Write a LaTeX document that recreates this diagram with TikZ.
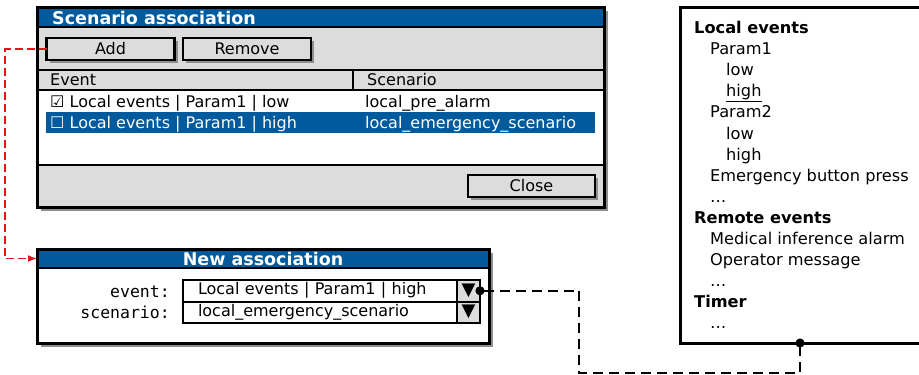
\documentclass[tikz,border=0pt]{standalone}
\usepackage{fontspec}
\setmainfont{DejaVu Sans}
\newfontfamily\monofont{DejaVu Sans Mono}
\usetikzlibrary{positioning, arrows.meta}

\definecolor{barblue}{HTML}{005A9C}
\definecolor{panelgray}{HTML}{DCDCDC}
\definecolor{shadowgray}{HTML}{8E8E8E}
\definecolor{linkred}{HTML}{E8141C}

\tikzset{
  shadowed/.style={preaction={fill=shadowgray, transform canvas={shift={(4pt,-4pt)}}}},
  win/.style={fill=white, shadowed},
  frame/.style={draw, line width=3pt},
  rule/.style={line width=2pt},
  btn/.style={draw, line width=2.5pt, fill=panelgray, outer sep=0pt,
    preaction={fill=shadowgray, transform canvas={shift={(3pt,-3pt)}}},
    minimum height=22pt, inner sep=0pt},
  cell/.style={anchor=base west, inner sep=0pt},
  selcell/.style={cell, text=white},
  titletext/.style={text=white, font=\fontsize{17.5pt}{19pt}\selectfont\bfseries, inner sep=0pt},
  bar/.style={fill=barblue, outer sep=0pt, inner sep=0pt},
  monolabel/.style={anchor=base east, inner sep=0pt, font=\monofont\fontsize{16.5pt}{19pt}\selectfont},
  combo/.style={draw, line width=2pt, fill=white, outer sep=0pt, minimum height=21.5pt,
    text width=244pt, inner xsep=15pt, inner ysep=0pt, align=left},
  dropbtn/.style={draw, line width=2pt, fill=panelgray, outer sep=0pt, minimum height=21.5pt,
    minimum width=23pt, inner sep=0pt, font=\fontsize{18pt}{18pt}\selectfont},
  redlink/.style={draw=linkred, line width=1.5pt, dash pattern=on 8pt off 4pt},
  blacklink/.style={line width=2pt, dash pattern=on 10pt off 6pt},
  listitem/.style={anchor=base west, inner sep=0pt, font=\fontsize{16.2pt}{19pt}\selectfont}
}

\begin{document}
\begin{tikzpicture}[x=1pt, y=-1pt, font=\fontsize{16pt}{19pt}\selectfont]
\useasboundingbox (0,0) rectangle (919,375);

% Scenario association window
\draw[win] (37,7) rectangle (604,207);
\fill[panelgray] (37,27) rectangle (604,90);
\fill[panelgray] (37,165) rectangle (604,207);
\node[bar, minimum width=567pt, minimum height=20pt, anchor=north west] (scenbar) at (37,7) {};
\node[titletext, anchor=base west] (scentitle) at (52,24) {Scenario association};
\fill[barblue] (46,112) rectangle (595,133);
\draw[rule] (37,27) -- (604,27) (37,70) -- (604,70) (37,90) -- (604,90)
  (37,165) -- (604,165) (353,70) -- (353,90);
\draw[frame] (37,7) rectangle (604,207);

\node[btn, minimum width=128pt] (add) at (110.5,49) {Add};
\node[btn, minimum width=128pt] (remove) at (247,49) {Remove};
\node[btn, minimum width=127pt] (close) at (531.5,186) {Close};

\node[cell] (hevent) at (50,85) {Event};
\node[cell] (hscen) at (367,85) {Scenario};
\node[cell] (row1) at (50,107) {☑ Local events | Param1 | low};
\node[cell] (row1s) at (365,107) {local\_pre\_alarm};
\node[selcell] (row2) at (50,128) {☐ Local events | Param1 | high};
\node[selcell] (row2s) at (365,128) {local\_emergency\_scenario};

% New association window
\draw[win] (37,249) rectangle (489,343);
\node[bar, minimum width=452pt, minimum height=19pt, anchor=north west] (newbar) at (37,249) {};
\node[titletext, anchor=base] (newtitle) at (263,265) {New association};
\draw[rule] (37,268) -- (489,268);
\draw[frame] (37,249) rectangle (489,343);

\node[monolabel] (evlabel) at (170,297) {event:};
\node[monolabel] (sclabel) at (170,318) {scenario:};
\node[combo, anchor=north west] (evbox) at (183,280) {Local events | Param1 | high};
\node[combo, below=0pt of evbox] (scbox) {local\_emergency\_scenario};
\node[dropbtn, right=0pt of evbox] (evdrop) {▼};
\node[dropbtn, right=0pt of scbox] (scdrop) {▼};

% event list
\draw[frame] (921,7) -- (680,7) -- (680,343) -- (921,343);
\coordinate (listbot) at (800,343);
\foreach \ind/\txt [count=\i from 0] in {0/{\bfseries Local events}, 1/Param1, 2/low,
    2/{\underline{high}}, 1/Param2, 2/low, 2/high, 1/Emergency button press, 1/\dots,
    0/{\bfseries Remote events}, 1/Medical inference alarm, 1/Operator message, 1/\dots,
    0/{\bfseries Timer}, 1/\dots}
  \node[listitem] (item\i) at ({694+16*\ind}, {33.5+21.1*\i}) {\txt};

% links
\draw[redlink, -{Latex[length=9pt, width=7pt]}] (add.west) -- ++(-41.5,0) |- (newbar.west);
\coordinate (bend) at (579,373);
\draw[blacklink, {Circle[length=9pt]}-{Circle[length=9pt]}, shorten <=-4.5pt, shorten >=-4.5pt]
  (evdrop.east) -| (bend) -| (listbot);
\end{tikzpicture}
\end{document}
